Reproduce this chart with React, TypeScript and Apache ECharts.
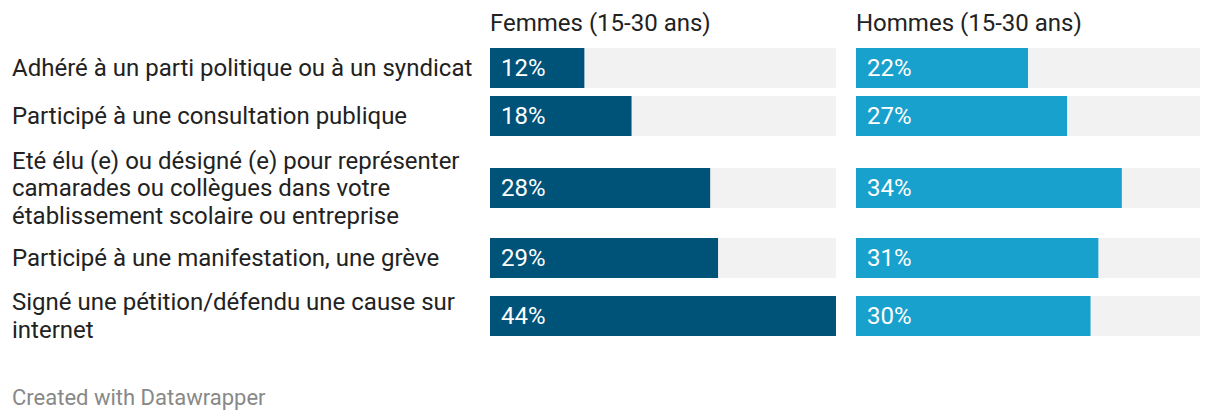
import React, { useEffect, useRef } from "react";
import * as echarts from "echarts";

const categories = [
  "Adhéré à un parti politique ou à un syndicat",
  "Participé à une consultation publique",
  "Eté élu (e) ou désigné (e) pour représenter\ncamarades ou collègues dans votre\nétablissement scolaire ou entreprise",
  "Participé à une manifestation, une grève",
  "Signé une pétition/défendu une cause sur\ninternet",
];
const femmes = [12, 18, 28, 29, 44];
const hommes = [22, 27, 34, 31, 30];
const panelTitles = ["Femmes (15-30 ans)", "Hommes (15-30 ans)"];
const footer = "Created with Datawrapper";
const valueMax = 44;

const rowTops = [48, 96, 168, 238, 296];
const rowH = 40;
const panels = [
  { left: 490, width: 346, color: "#005378", values: femmes },
  { left: 856, width: 344, color: "#19a1cd", values: hommes },
];
const FONT = "Roboto, sans-serif";

export default function App() {
  const ref = useRef<HTMLDivElement>(null);
  useEffect(() => {
    if (!ref.current) return;
    const chart = echarts.init(ref.current, null, { renderer: "svg" });
    const grid: any[] = [];
    const xAxis: any[] = [];
    const yAxis: any[] = [];
    const series: any[] = [];
    panels.forEach((p, pi) => {
      categories.forEach((cat, i) => {
        const idx = grid.length;
        grid.push({ left: p.left, width: p.width, top: rowTops[i], height: rowH });
        xAxis.push({ type: "value", gridIndex: idx, min: 0, max: valueMax, show: false });
        yAxis.push({
          type: "category",
          gridIndex: idx,
          data: [cat],
          axisLine: { show: false },
          axisTick: { show: false },
          axisLabel: {
            show: pi === 0,
            align: "left",
            margin: p.left - 12,
            fontSize: 24,
            lineHeight: 27.5,
            color: "#222222",
            fontFamily: FONT,
          },
        });
        series.push({
          type: "bar",
          xAxisIndex: idx,
          yAxisIndex: idx,
          data: [p.values[i]],
          barWidth: "100%",
          showBackground: true,
          backgroundStyle: { color: "#f2f2f2" },
          itemStyle: { color: p.color },
          label: {
            show: true,
            position: "insideLeft",
            distance: 11,
            formatter: "{c}%",
            color: "#ffffff",
            fontSize: 24,
            fontFamily: FONT,
          },
        });
      });
    });
    chart.setOption({
      animation: false,
      backgroundColor: "#ffffff",
      grid,
      xAxis,
      yAxis,
      series,
      graphic: [
        ...panels.map((p, pi) => ({
          type: "text",
          x: p.left,
          y: 23,
          style: {
            text: panelTitles[pi],
            fontSize: 24,
            fontFamily: FONT,
            fill: "#222222",
            verticalAlign: "middle",
          },
        })),
        {
          type: "text",
          x: 12,
          y: 397,
          style: {
            text: footer,
            fontSize: 22,
            fontFamily: FONT,
            fill: "#888888",
            verticalAlign: "middle",
          },
        },
      ],
    });
    return () => chart.dispose();
  }, []);
  return (
    <div
      ref={ref}
      style={{ position: "absolute", left: 0, top: 0, width: 1220, height: 420 }}
    />
  );
}
